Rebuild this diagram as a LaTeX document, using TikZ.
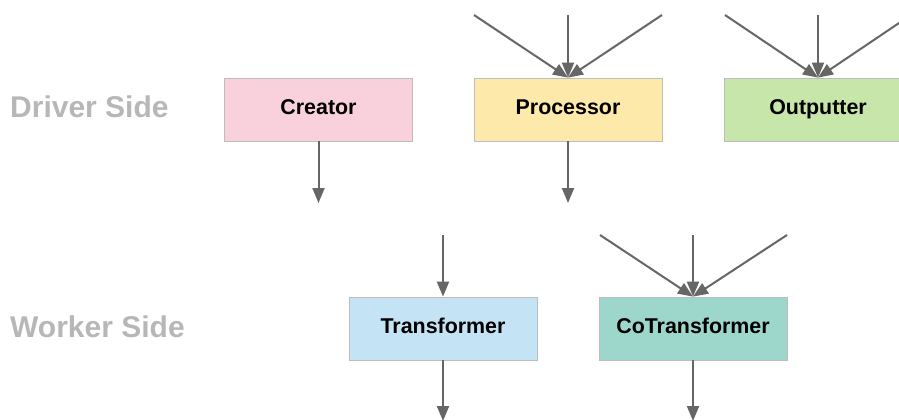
\documentclass[tikz,border=0pt]{standalone}
\usepackage{fontspec}
\setmainfont{Liberation Sans}
\usetikzlibrary{arrows.meta}
\definecolor{flowgray}{HTML}{666666}
\definecolor{edgegray}{HTML}{BDBDBD}
\definecolor{sidegray}{HTML}{B7B7B7}
\definecolor{pinkfill}{HTML}{F9D1DC}
\definecolor{yellowfill}{HTML}{FDE9A9}
\definecolor{greenfill}{HTML}{C6E6AA}
\definecolor{bluefill}{HTML}{C4E3F5}
\definecolor{tealfill}{HTML}{9DD6CA}
\tikzset{
  stage/.style={draw=edgegray, line width=0.8pt, minimum width=188pt, minimum height=63pt,
    inner sep=0pt, text height=15.2pt, text depth=4.6pt,
    font=\fontsize{21.4}{24}\selectfont\bfseries, text=black},
  sidelabel/.style={anchor=west, inner sep=0pt, text height=21.5pt, text depth=0pt,
    text=sidegray, font=\fontsize{30}{32}\selectfont\bfseries},
  flow/.style={draw=flowgray, line width=2pt, -{Triangle[length=15pt,width=12pt]}}
}
\begin{document}
\begin{tikzpicture}[x=1pt,y=-1pt]
\useasboundingbox (0,0) rectangle (899,420);
\clip (0,0) rectangle (899,420);

% side captions
\node[sidelabel] (driver) at (10,106.5) {Driver Side};
\node[sidelabel] (worker) at (10,327) {Worker Side};

% driver-side stages
\node[stage, fill=pinkfill]   (creator)   at (318.5,109.5) {Creator};
\node[stage, fill=yellowfill] (processor) at (568,109.5)   {Processor};
\node[stage, fill=greenfill]  (outputter) at (818,109.5)   {Outputter};

% worker-side stages
\node[stage, fill=bluefill] (transformer)   at (443,328.5) {Transformer};
\node[stage, fill=tealfill] (cotransformer) at (693,328.5) {CoTransformer};

% free ends of the connectors
\coordinate (pA) at (474,15);
\coordinate (pB) at (568,15);
\coordinate (pC) at (662,15);
\coordinate (oA) at (725,15);
\coordinate (oB) at (818,15);
\coordinate (oC) at (911,15);
\coordinate (creatorOut) at (318.5,203);
\coordinate (processorOut) at (568,203);
\coordinate (tIn) at (443,235);
\coordinate (tOut) at (443,421);
\coordinate (cA) at (600,235);
\coordinate (cB) at (693,235);
\coordinate (cC) at (787,235);
\coordinate (cOut) at (693,421);

% inputs
\foreach \s in {pA,pB,pC} \draw[flow] (\s) -- (processor.north);
\foreach \s in {oA,oB,oC} \draw[flow] (\s) -- (outputter.north);
\draw[flow] (tIn) -- (transformer.north);
\foreach \s in {cA,cB,cC} \draw[flow] (\s) -- (cotransformer.north);

% outputs
\draw[flow] (creator.south) -- (creatorOut);
\draw[flow] (processor.south) -- (processorOut);
\draw[flow] (transformer.south) -- (tOut);
\draw[flow] (cotransformer.south) -- (cOut);
\end{tikzpicture}
\end{document}
